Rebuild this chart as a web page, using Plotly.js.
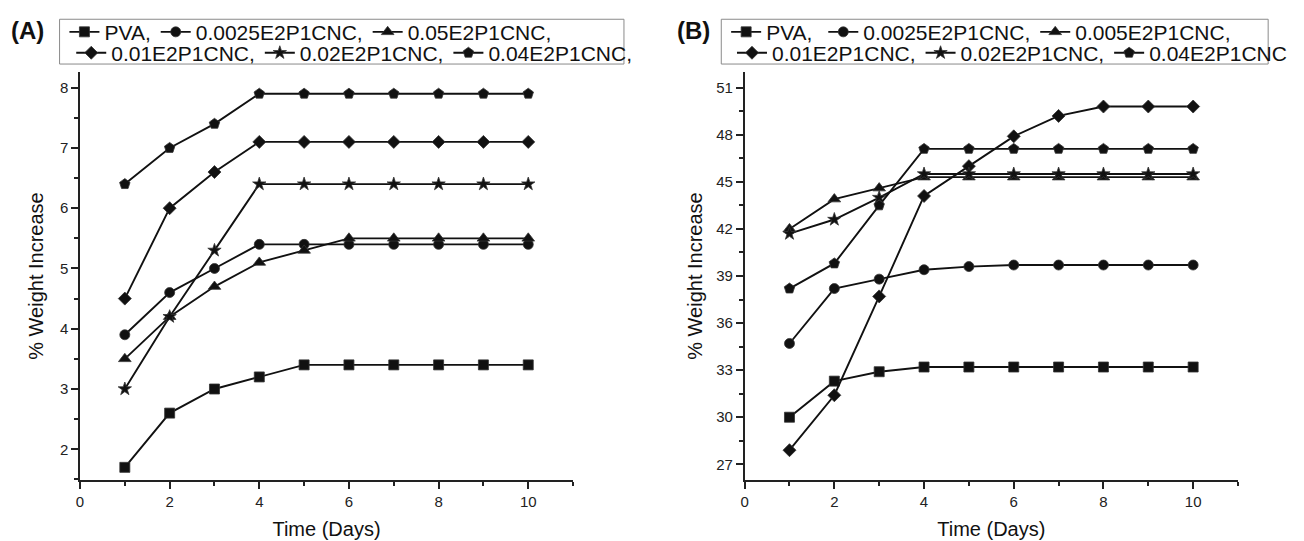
<!DOCTYPE html>
<html>
<head>
<meta charset="utf-8">
<script src="https://cdn.plot.ly/plotly-3.0.1.min.js"></script>
<style>html,body{margin:0;padding:0;background:#fff;}#chart{width:1304px;height:541px;}</style>
</head>
<body>
<div id="chart"></div>
<script>
// ---------- data ----------
const days = [1, 2, 3, 4, 5, 6, 7, 8, 9, 10];

const namesA = ["PVA,", "0.0025E2P1CNC,", "0.05E2P1CNC,", "0.01E2P1CNC,", "0.02E2P1CNC,", "0.04E2P1CNC,"];
const namesB = ["PVA,\u00a0", "0.0025E2P1CNC,", "0.005E2P1CNC,", "0.01E2P1CNC,", "0.02E2P1CNC,", "0.04E2P1CNC"];

// Panel A
const pvaA    = [1.7, 2.6, 3.0, 3.2, 3.4, 3.4, 3.4, 3.4, 3.4, 3.4];
const c0025A  = [3.9, 4.6, 5.0, 5.4, 5.4, 5.4, 5.4, 5.4, 5.4, 5.4];
const c05A    = [3.5, 4.2, 4.7, 5.1, 5.3, 5.5, 5.5, 5.5, 5.5, 5.5];
const c01A    = [4.5, 6.0, 6.6, 7.1, 7.1, 7.1, 7.1, 7.1, 7.1, 7.1];
const c02A    = [3.0, 4.2, 5.3, 6.4, 6.4, 6.4, 6.4, 6.4, 6.4, 6.4];
const c04A    = [6.4, 7.0, 7.4, 7.9, 7.9, 7.9, 7.9, 7.9, 7.9, 7.9];

// Panel B
const pvaB    = [30.0, 32.3, 32.9, 33.2, 33.2, 33.2, 33.2, 33.2, 33.2, 33.2];
const c0025B  = [34.7, 38.2, 38.8, 39.4, 39.6, 39.7, 39.7, 39.7, 39.7, 39.7];
const c005B   = [42.0, 43.9, 44.6, 45.3, 45.3, 45.3, 45.3, 45.3, 45.3, 45.3];
const c01B    = [27.9, 31.4, 37.7, 44.1, 46.0, 47.9, 49.2, 49.8, 49.8, 49.8];
const c02B    = [41.7, 42.6, 44.0, 45.5, 45.5, 45.5, 45.5, 45.5, 45.5, 45.5];
const c04B    = [38.2, 39.8, 43.5, 47.1, 47.1, 47.1, 47.1, 47.1, 47.1, 47.1];

const seriesA = [pvaA, c0025A, c05A, c01A, c02A, c04A];
const seriesB = [pvaB, c0025B, c005B, c01B, c02B, c04B];

// ---------- styling ----------
const symbols = ["square", "circle", "triangle-up", "diamond", "star", "pentagon"];
const sizes   = [10, 10, 11, 10, 10, 11];
const INK = "#111";

// pixel -> paper helpers (figure 1304 x 541, margins below)
const W = 1304, H = 541, M = {l: 80, r: 34, t: 70, b: 61};
const PW = W - M.l - M.r, PH = H - M.t - M.b;
const px = v => (v - M.l) / PW;
const py = v => (H - M.b - v) / PH;

const traces = [];
function addPanel(series, names, xa, ya, legRow1, legRow2) {
  series.forEach((ys, i) => {
    traces.push({
      x: days, y: ys, name: names[i],
      xaxis: xa, yaxis: ya,
      type: "scatter", mode: "lines+markers",
      line: {color: INK, width: 1.9},
      marker: {symbol: symbols[i], size: sizes[i], color: INK, line: {color: "#333", width: 0.8}},
      legend: i < 3 ? legRow1 : legRow2,
      hoverinfo: "x+y+name"
    });
  });
}
addPanel(seriesA, namesA, "x", "y", "legend", "legend2");
addPanel(seriesB, namesB, "x2", "y2", "legend3", "legend4");

const FONT = "Liberation Sans, Arial, Helvetica, sans-serif";
const tickFont = {family: FONT, size: 15, color: "#222"};
const titleFont = {family: FONT, size: 20, color: "#111"};

function xAxis(domain, anchor) {
  return {
    domain: domain, anchor: anchor, range: [0, 11], tick0: 0, dtick: 2,
    ticks: "outside", ticklen: 7, tickwidth: 1.5, tickcolor: "#222",
    showline: true, linewidth: 1.5, linecolor: "#222", mirror: false,
    showgrid: false, zeroline: false, tickfont: tickFont,
    minor: {dtick: 1, ticks: "outside", ticklen: 4, tickwidth: 1.5, tickcolor: "#222", showgrid: false},
    title: {text: "Time (Days)", font: titleFont, standoff: 13},
    fixedrange: true
  };
}
function yAxis(range, dtick, anchor, standoff) {
  return {
    anchor: anchor, range: range, dtick: dtick, tick0: 0,
    ticks: "outside", ticklen: 7, tickwidth: 1.5, tickcolor: "#222",
    showline: true, linewidth: 1.5, linecolor: "#222", mirror: false,
    showgrid: false, zeroline: false, tickfont: tickFont,
    minor: {dtick: dtick / 2, ticks: "outside", ticklen: 4, tickwidth: 1.5, tickcolor: "#222", showgrid: false},
    title: {text: "% Weight Increase", font: titleFont, standoff: standoff},
    fixedrange: true
  };
}

function legendRow(xPix, yPix) {
  return {
    orientation: "h", x: px(xPix), y: py(yPix), xanchor: "left", yanchor: "middle",
    xref: "paper", yref: "paper",
    font: {family: FONT, size: 21, color: "#111"},
    bgcolor: "rgba(0,0,0,0)", borderwidth: 0, tracegroupgap: 0,
    itemclick: false, itemdoubleclick: false
  };
}

const boxStyle = {color: "#8a8a8a", width: 1};
const layout = {
  width: W, height: H,
  margin: {l: M.l, r: M.r, t: M.t, b: M.b, pad: 0},
  paper_bgcolor: "#fff", plot_bgcolor: "#fff",
  showlegend: true,
  font: {family: FONT, color: "#111"},
  xaxis: xAxis([0, px(586.7)], "y"),
  yaxis: yAxis([1.49, 8.26], 1, "x", 11),
  xaxis2: xAxis([px(763), 1], "y2"),
  yaxis2: yAxis([26, 52], 3, "x2", 8),
  legend: legendRow(64, 30),
  legend2: legendRow(71, 51),
  legend3: legendRow(744, 30),
  legend4: legendRow(750, 51),
  shapes: [
    {type: "rect", xref: "paper", yref: "paper", x0: px(59), x1: px(639), y0: py(62), y1: py(17), line: boxStyle, fillcolor: "rgba(0,0,0,0)"},
    {type: "rect", xref: "paper", yref: "paper", x0: px(739), x1: px(1301), y0: py(62), y1: py(17), line: boxStyle, fillcolor: "rgba(0,0,0,0)"}
  ],
  annotations: [
    {text: "<b>(A)</b>", xref: "paper", yref: "paper", x: px(26), y: py(28), xanchor: "center", yanchor: "middle", showarrow: false, font: {family: FONT, size: 24, color: "#111"}},
    {text: "<b>(B)</b>", xref: "paper", yref: "paper", x: px(710), y: py(28), xanchor: "center", yanchor: "middle", showarrow: false, font: {family: FONT, size: 24, color: "#111"}}
  ]
};

Plotly.newPlot("chart", traces, layout, {displayModeBar: false, staticPlot: false, responsive: false});
</script>
</body>
</html>
